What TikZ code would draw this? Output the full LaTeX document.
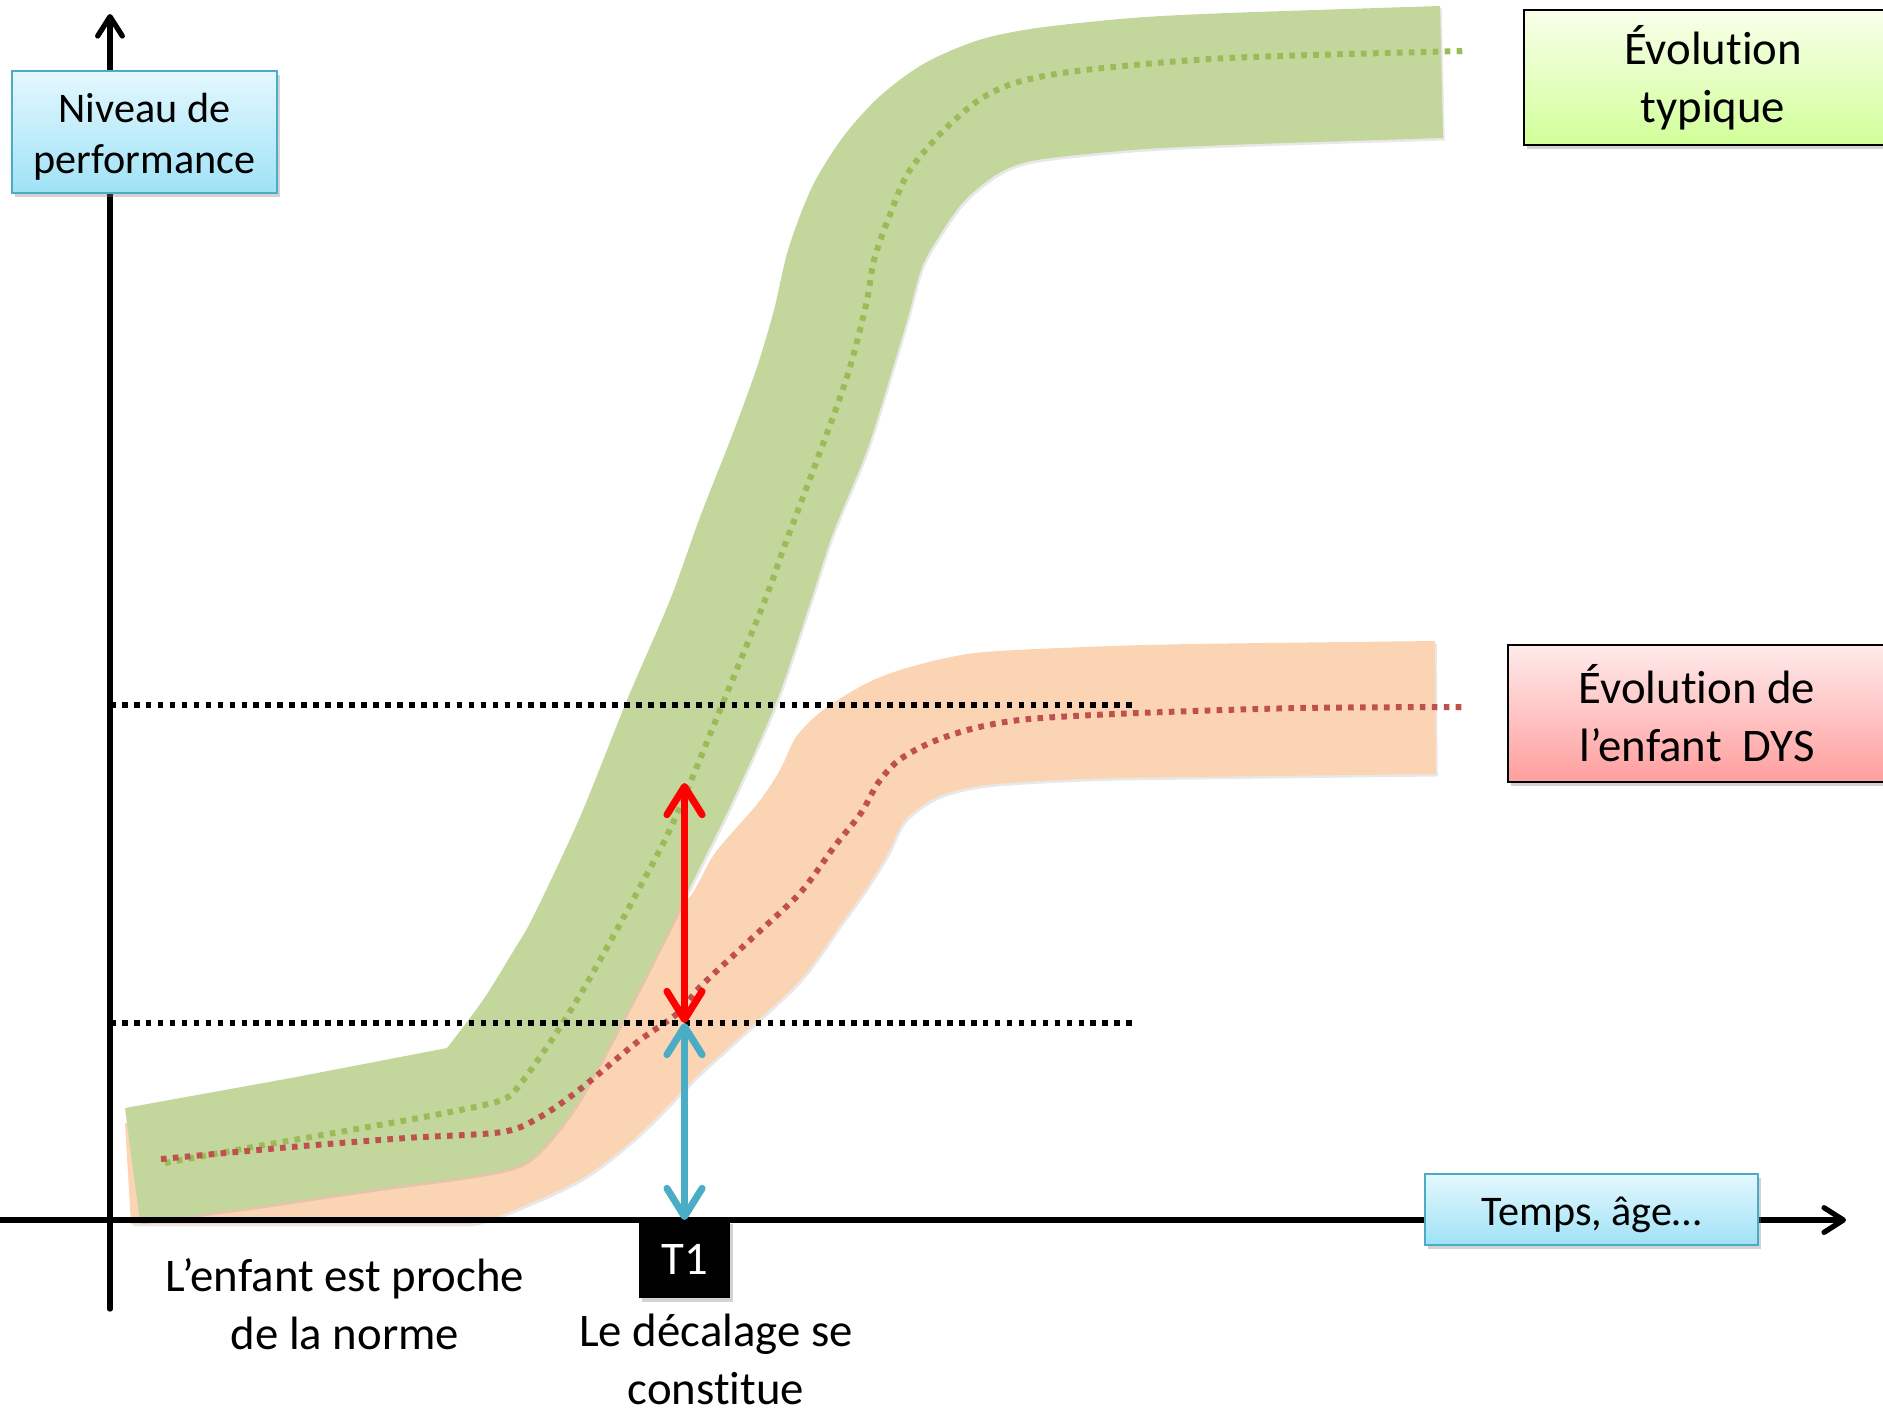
\documentclass[tikz,border=0pt]{standalone}
\usepackage{fontspec}
\setmainfont{Carlito}[Ligatures=NoCommon]
\usetikzlibrary{arrows.meta,shadows}

\definecolor{bandgreen}{HTML}{C3D69B}
\definecolor{bandorange}{HTML}{FBD4B4}
\definecolor{trendgreen}{HTML}{9BBB59}
\definecolor{trendred}{HTML}{C0504D}
\definecolor{gapblue}{HTML}{4BACC6}
\definecolor{gapred}{HTML}{FF0000}
\definecolor{skytop}{HTML}{E4F8FE}
\definecolor{skybottom}{HTML}{9FE2F6}

\tikzset{
  axisline/.style={line width=1.5pt,line cap=round,-{Straight Barb[length=5.5pt,width=7pt,round]}},
  guideline/.style={line width=1.7pt,dash pattern=on 1.6pt off 1.8pt},
  trendline/.style={line width=1.7pt,dash pattern=on 1.6pt off 1.8pt},
  bandshadow/.style={drop shadow={shadow xshift=0.5pt,shadow yshift=-0.7pt,opacity=0.18}},
  gaparrow/.style={line width=2pt,line cap=round,{Straight Barb[length=8pt,width=10pt,round]}-{Straight Barb[length=8pt,width=10pt,round]}},
  boxshadow/.style={drop shadow={shadow xshift=0.9pt,shadow yshift=-1.1pt,opacity=0.35}},
  axisbox/.style={boxshadow,draw=gapblue,line width=0.7pt,top color=skytop,bottom color=skybottom,align=center,inner sep=0pt},
  legendbox/.style={boxshadow,draw=black,line width=0.8pt,align=center,inner sep=0pt,font=\fontsize{13.3}{16.5}\selectfont},
  caption/.style={align=center,font=\fontsize{13.3}{16.5}\selectfont}
}

\begin{document}
\begin{tikzpicture}[x=0.01cm,y=-0.01cm]
\useasboundingbox (0,0) rectangle (1883,1411);

\fill[bandorange,bandshadow] (131,1224) -- (125,1123)
  -- plot[smooth,tension=0.5] coordinates {(125,1123) (300,1100) (450,1062) (550,990) (640,930) (687,900) (715,853) (758,803) (780,770) (796,737) (823,710) (867,683) (910,667) (975,653) (1084,647) (1192,644) (1435,641)}
  -- (1436,774)
  -- plot[smooth,tension=0.5] coordinates {(1436,774) (1192,777) (1084,779) (986,785) (937,797) (905,820) (888,853) (867,887) (840,925) (800,980) (733,1043) (700,1073) (636,1137) (579,1180) (502,1215) (470,1224)}
  -- cycle;

\fill[bandgreen,bandshadow] (140,1222) -- (125,1108) -- (291,1078) -- (447,1048)
  -- plot[smooth,tension=0.5] coordinates {(447,1048) (483,1000) (514,950) (533,917) (580,817) (627,700) (670,600) (700,517) (733,433) (757,367) (774,310) (788,250) (812,187) (843,137) (880,96) (925,63) (979,40) (1037,28) (1132,18) (1228,13) (1440,6)}
  -- (1443,138)
  -- plot[smooth,tension=0.5] coordinates {(1443,138) (1228,145) (1132,150) (1037,160) (999,173) (965,200) (941,233) (922,267) (908,317) (893,367) (867,450) (833,533) (811,600) (777,700) (733,800) (700,867) (667,933) (633,1000) (579,1100) (540,1150) (514,1167) (464,1177) (368,1190) (253,1207) (140,1222)}
  -- cycle;

\draw[trendline,trendgreen] plot[smooth,tension=0.5] coordinates {(165,1163) (253,1147) (368,1127) (445,1113) (502,1100) (521,1083) (555,1035) (587,983) (633,900) (673,823) (720,710) (765,600) (783,550) (817,460) (847,377) (866,305) (874,260) (889,217) (908,173) (941,133) (979,100) (1018,82) (1085,70) (1228,58) (1464,51)};
\draw[trendline,trendred] plot[smooth,tension=0.5] coordinates {(161,1159) (291,1147) (406,1138) (502,1132) (540,1117) (579,1090) (636,1043) (678,1013) (700,987) (750,940) (800,893) (834,847) (861,813) (878,783) (899,760) (932,742) (975,728) (1029,719) (1138,713) (1300,708) (1466,707)};

\coordinate (hiStart) at (110,705);
\coordinate (hiEnd) at (1138,705);
\coordinate (loStart) at (110,1023);
\coordinate (loEnd) at (1138,1023);
\draw[guideline] (hiStart) -- (hiEnd);
\draw[guideline] (loStart) -- (loEnd);

\coordinate (yStart) at (110,1309);
\coordinate (yEnd) at (110,14);
\coordinate (xStart) at (0,1220);
\coordinate (xEnd) at (1846,1220);
\draw[axisline] (yStart) -- (yEnd);
\draw[axisline] (xStart) -- (xEnd);

\node[axisbox,minimum width=2.65cm,minimum height=1.22cm,font=\fontsize{12}{14.6}\selectfont] (level) at (144.5,132) {\rule{0pt}{11pt}Niveau de\\performance};
\node[axisbox,minimum width=3.33cm,minimum height=0.71cm,font=\fontsize{12}{14.6}\selectfont] (time) at (1591.5,1209.5) {\rule{0pt}{11pt}Temps, âge…};
\node[legendbox,top color=green!30!yellow!8,bottom color=green!45!yellow!40,minimum width=3.78cm,minimum height=1.35cm] (typical) at (1713,77.5) {Évolution\\typique};
\node[legendbox,top color=red!8,bottom color=red!38,minimum width=3.78cm,minimum height=1.37cm] (dys) at (1697,713.5) {Évolution de\\l’enfant~~DYS};

\coordinate (gapTop) at (684.5,783);
\coordinate (gapBot) at (684.5,1023);
\coordinate (gapAxis) at (684.5,1220);
\draw[gaparrow,gapred] (gapBot) -- (gapTop);
\draw[gaparrow,gapblue] (gapAxis) -- (gapBot);

\node[boxshadow,fill=black,text=white,minimum width=0.91cm,minimum height=0.78cm,inner sep=0pt,font=\fontsize{13.3}{16}\selectfont] (t1) at (684.5,1259) {T1};
\node[caption] (near) at (345,1304) {L’enfant est proche\\de la norme};
\node[caption] (shift) at (716,1359) {Le décalage se\\constitue};

\end{tikzpicture}
\end{document}
